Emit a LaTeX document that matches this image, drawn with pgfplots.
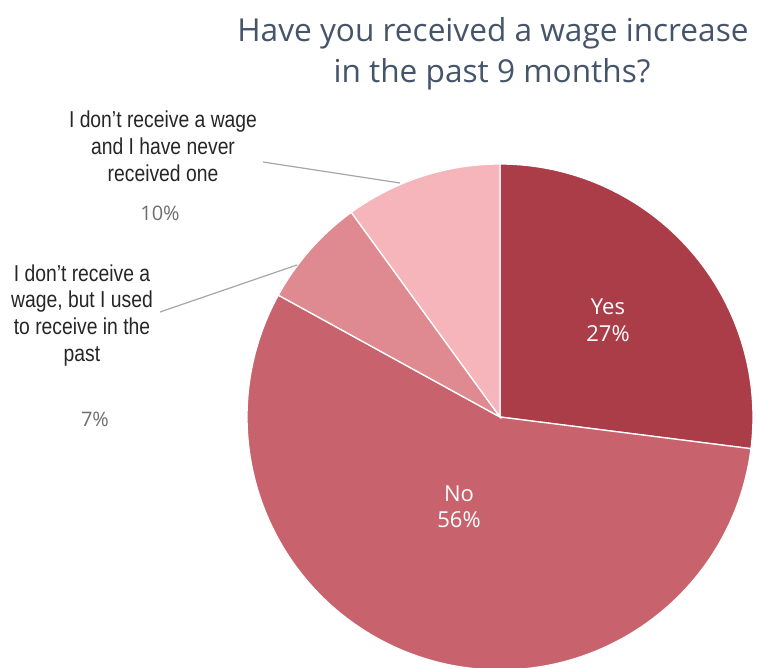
\documentclass[border=0pt]{standalone}
\usepackage{pgfplots}
\pgfplotsset{compat=1.18}
\usepackage{fontspec}
\setmainfont{Open Sans}
\newfontfamily\narrowfont{Liberation Sans}[FakeStretch=0.84]
\definecolor{cYes}{HTML}{AA3D48}
\definecolor{cNo}{HTML}{C8636D}
\definecolor{cUsed}{HTML}{DF8A91}
\definecolor{cNever}{HTML}{F6B5BA}
\definecolor{cTitle}{HTML}{44546A}
\definecolor{cLbl}{HTML}{262626}
\definecolor{cPct}{HTML}{6E6E6E}
\definecolor{cLead}{HTML}{A6A6A6}
\begin{document}
\begin{tikzpicture}
% shares in percent
\pgfmathsetmacro{\vYes}{27}
\pgfmathsetmacro{\vNo}{56}
\pgfmathsetmacro{\vUsed}{7}
\pgfmathsetmacro{\vNever}{10}
\pgfmathsetmacro{\aZero}{90}
\pgfmathsetmacro{\aOne}{\aZero-3.6*\vYes}
\pgfmathsetmacro{\aTwo}{\aOne-3.6*\vNo}
\pgfmathsetmacro{\aThree}{\aTwo-3.6*\vUsed}
\pgfmathsetmacro{\aFour}{\aThree-3.6*\vNever}
\def\R{253}
\begin{axis}[x=1pt,y=1pt,xmin=-500,xmax=258,ymin=-251,ymax=417,
  hide axis,clip=true,enlargelimits=false]
\addplot[fill=cYes,draw=white,line width=1.3pt,domain=\aOne:\aZero,samples=90,variable=\t]
  ({\R*cos(\t)},{\R*sin(\t)}) -- (axis cs:0,0) -- cycle;
\addplot[fill=cNo,draw=white,line width=1.3pt,domain=\aTwo:\aOne,samples=150,variable=\t]
  ({\R*cos(\t)},{\R*sin(\t)}) -- (axis cs:0,0) -- cycle;
\addplot[fill=cUsed,draw=white,line width=1.3pt,domain=\aThree:\aTwo,samples=30,variable=\t]
  ({\R*cos(\t)},{\R*sin(\t)}) -- (axis cs:0,0) -- cycle;
\addplot[fill=cNever,draw=white,line width=1.3pt,domain=\aFour:\aThree,samples=40,variable=\t]
  ({\R*cos(\t)},{\R*sin(\t)}) -- (axis cs:0,0) -- cycle;
% inner labels
\node[anchor=base,text=white,font=\fontsize{22}{26}\selectfont] at (axis cs:108,102) {Yes};
\node[anchor=base,text=white,font=\fontsize{22}{26}\selectfont] at (axis cs:108,75) {27\%};
\node[anchor=base,text=white,font=\fontsize{22}{26}\selectfont] at (axis cs:-41,-85) {No};
\node[anchor=base,text=white,font=\fontsize{22}{26}\selectfont] at (axis cs:-41,-111) {56\%};
% leader lines
\draw[cLead,line width=1.2pt] (axis cs:-237,255) -- (axis cs:-100,234);
\draw[cLead,line width=1.2pt] (axis cs:-340,105) -- (axis cs:-203,152);
% outer labels
\node[anchor=base,text=cLbl,font=\narrowfont\fontsize{23}{27}\selectfont] at (axis cs:-337,289) {I don’t receive a wage};
\node[anchor=base,text=cLbl,font=\narrowfont\fontsize{23}{27}\selectfont] at (axis cs:-337,262) {and I have never};
\node[anchor=base,text=cLbl,font=\narrowfont\fontsize{23}{27}\selectfont] at (axis cs:-337,235) {received one};
\node[anchor=base,text=cPct,font=\fontsize{20}{24}\selectfont] at (axis cs:-340,196) {10\%};
\node[anchor=base,text=cLbl,font=\narrowfont\fontsize{23}{27}\selectfont] at (axis cs:-418,135) {I don’t receive a};
\node[anchor=base,text=cLbl,font=\narrowfont\fontsize{23}{27}\selectfont] at (axis cs:-418,109) {wage, but I used};
\node[anchor=base,text=cLbl,font=\narrowfont\fontsize{23}{27}\selectfont] at (axis cs:-418,82) {to receive in the};
\node[anchor=base,text=cLbl,font=\narrowfont\fontsize{23}{27}\selectfont] at (axis cs:-418,55) {past};
\node[anchor=base,text=cPct,font=\fontsize{20}{24}\selectfont] at (axis cs:-405,-10) {7\%};
% title
\node[anchor=base,text=cTitle,font=\fontsize{31.6}{36}\selectfont] at (axis cs:-7,375) {Have you received a wage increase};
\node[anchor=base,text=cTitle,font=\fontsize{31.6}{36}\selectfont] at (axis cs:-8,334) {in the past 9 months?};
\end{axis}
\pgfresetboundingbox
\path (current axis.south west) rectangle (current axis.north east);
\end{tikzpicture}
\end{document}
